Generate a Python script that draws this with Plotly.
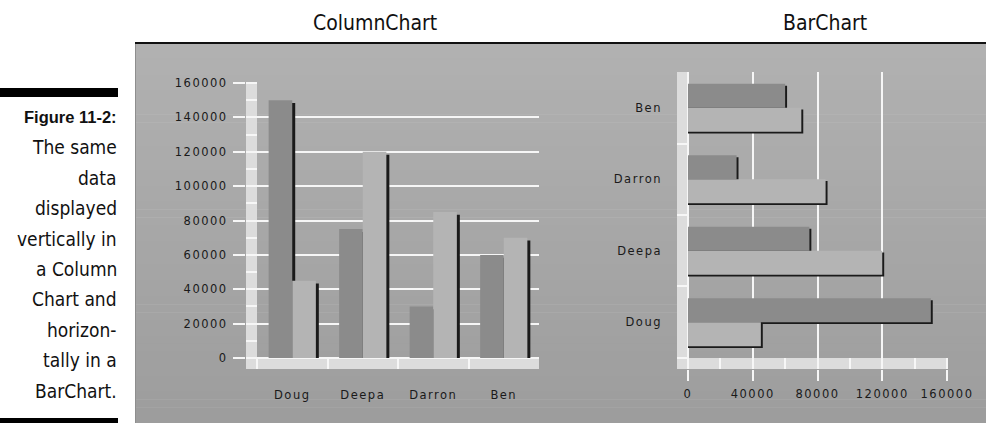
import plotly.graph_objects as go

# ---- data -------------------------------------------------------------
names = ["Doug", "Deepa", "Darron", "Ben"]
series_dark = [150000, 75000, 30000, 60000]
series_light = [45000, 120000, 85000, 70000]
column_ticks = [0, 20000, 40000, 60000, 80000, 100000, 120000, 140000, 160000]
bar_ticks = [0, 40000, 80000, 120000, 160000]
caption_title = "Figure 11-2:"
caption_lines = ["The same", "data", "displayed", "vertically in", "a Column",
                 "Chart and", "horizon-", "tally in a", "BarChart."]

# ---- styling ----------------------------------------------------------
W, H = 986, 423
DARK = "#8b8b8b"
LIGHT = "#b4b4b4"
SHADOW = "#1a1a1a"
WALL = "#dcdcdc"
GRID = "#f6f6f6"
TICK_FONT = dict(family="DejaVu Sans, Verdana, sans-serif", size=11.5, color="#1a1a1a")
COND_FONT = "DejaVu Sans Condensed, Liberation Sans Narrow, Liberation Sans, sans-serif"
BAR_W = 0.335


def px(x):
    return x / W


def py(y):
    return 1 - y / H


fig = go.Figure()

# Column chart: shadow strip drawn behind each bar, slightly offset
fig.add_trace(go.Bar(x=names, y=[v - 1700 for v in series_dark], offset=-BAR_W + 0.042,
                     width=BAR_W, marker=dict(color=SHADOW, line_width=0),
                     xaxis="x", yaxis="y", hoverinfo="skip"))
fig.add_trace(go.Bar(x=names, y=series_dark, offset=-BAR_W, width=BAR_W,
                     marker=dict(color=DARK, line_width=0), xaxis="x", yaxis="y"))
fig.add_trace(go.Bar(x=names, y=[v - 1700 for v in series_light], offset=0.042,
                     width=BAR_W, marker=dict(color=SHADOW, line_width=0),
                     xaxis="x", yaxis="y", hoverinfo="skip"))
fig.add_trace(go.Bar(x=names, y=series_light, offset=0, width=BAR_W,
                     marker=dict(color=LIGHT, line_width=0), xaxis="x", yaxis="y"))

# Bar chart (horizontal): shadow drops down and to the right
fig.add_trace(go.Bar(y=names, x=[v + 1200 for v in series_dark], orientation="h",
                     offset=-0.026, width=BAR_W, marker=dict(color=SHADOW, line_width=0),
                     xaxis="x2", yaxis="y2", hoverinfo="skip"))
fig.add_trace(go.Bar(y=names, x=series_dark, orientation="h", offset=0, width=BAR_W,
                     marker=dict(color=DARK, line_width=0), xaxis="x2", yaxis="y2"))
fig.add_trace(go.Bar(y=names, x=[v + 1200 for v in series_light], orientation="h",
                     offset=-BAR_W - 0.026, width=BAR_W,
                     marker=dict(color=SHADOW, line_width=0),
                     xaxis="x2", yaxis="y2", hoverinfo="skip"))
fig.add_trace(go.Bar(y=names, x=series_light, orientation="h", offset=-BAR_W,
                     width=BAR_W, marker=dict(color=LIGHT, line_width=0),
                     xaxis="x2", yaxis="y2"))

shapes = []

# panel background: vertical gradient built from thin strips
panel_top, panel_bottom, panel_left = 43, H, 135
n_strips = 48
top_rgb, bottom_rgb = 177, 157
for i in range(n_strips):
    y0 = panel_top + (panel_bottom - panel_top) * i / n_strips
    y1 = panel_top + (panel_bottom - panel_top) * (i + 1) / n_strips + 0.6
    g = round(top_rgb + (bottom_rgb - top_rgb) * i / (n_strips - 1))
    shapes.append(dict(type="rect", xref="paper", yref="paper", layer="below",
                       x0=px(panel_left), x1=1, y0=py(min(y1, H)), y1=py(y0),
                       fillcolor=f"rgb({g},{g},{g})", line_width=0))
shapes.append(dict(type="line", xref="paper", yref="paper", layer="below",
                   x0=px(panel_left + 0.5), x1=px(panel_left + 0.5), y0=0, y1=py(panel_top),
                   line=dict(color="#8e8e8e", width=1)))
shapes.append(dict(type="line", xref="paper", yref="paper", layer="above",
                   x0=px(panel_left), x1=1, y0=py(panel_top), y1=py(panel_top),
                   line=dict(color="#111111", width=2)))

# caption rules
shapes.append(dict(type="rect", xref="paper", yref="paper", layer="above",
                   x0=0, x1=px(118), y0=py(97), y1=py(88), fillcolor="#000", line_width=0))
shapes.append(dict(type="rect", xref="paper", yref="paper", layer="above",
                   x0=0, x1=px(118), y0=0, y1=py(418), fillcolor="#000", line_width=0))

# column chart wall and floor
col_lo, col_left = -6400, -0.656
shapes.append(dict(type="rect", xref="x", yref="y", layer="below",
                   x0=col_left, x1=-0.5, y0=col_lo, y1=column_ticks[-1],
                   fillcolor=WALL, line_width=0))
shapes.append(dict(type="rect", xref="x", yref="y", layer="below",
                   x0=col_left, x1=3.5, y0=col_lo, y1=0, fillcolor=WALL, line_width=0))

# bar chart wall and floor
bar_lo, bar_bottom = -6800, -0.654
shapes.append(dict(type="rect", xref="x2", yref="y2", layer="below",
                   x0=bar_lo, x1=0, y0=bar_bottom, y1=3.5, fillcolor=WALL, line_width=0))
shapes.append(dict(type="rect", xref="x2", yref="y2", layer="below",
                   x0=bar_lo, x1=bar_ticks[-1], y0=bar_bottom, y1=-0.5,
                   fillcolor=WALL, line_width=0))

annotations = [dict(text=f"<b>{caption_title}</b>", xref="paper", yref="paper",
                    x=px(119), y=py(117), xanchor="right", yanchor="middle",
                    showarrow=False,
                    font=dict(family="Liberation Sans, Arial, sans-serif", size=16.5,
                              color="#111111"))]
for i, line in enumerate(caption_lines, start=1):
    annotations.append(dict(text=line, xref="paper", yref="paper", x=px(119),
                            y=py(117 + i * 30.4), xanchor="right", yanchor="middle",
                            showarrow=False, align="right",
                            font=dict(family=COND_FONT, size=19, color="#111111")))
for text, cx in (("ColumnChart", 375), ("BarChart", 825)):
    annotations.append(dict(text=text, xref="paper", yref="paper", x=px(cx), y=py(23),
                            xanchor="center", yanchor="middle", showarrow=False,
                            font=dict(family=COND_FONT, size=21, color="#111111")))

fig.update_layout(
    width=W, height=H,
    margin=dict(l=0, r=0, t=0, b=0, pad=0, autoexpand=False),
    paper_bgcolor="white", plot_bgcolor="rgba(0,0,0,0)",
    barmode="overlay", showlegend=False,
    shapes=shapes, annotations=annotations,
    xaxis=dict(domain=[px(246), px(539)], anchor="y", type="category",
               range=[col_left, 3.5], tickson="boundaries", ticks="inside",
               ticklen=11, tickwidth=2, tickcolor=GRID, showgrid=False,
               zeroline=False, showline=False, tickfont=TICK_FONT, automargin=False,
               ticklabelstandoff=17, fixedrange=True),
    yaxis=dict(domain=[py(369), py(83)], anchor="x", range=[col_lo, column_ticks[-1]],
               tickmode="array", tickvals=column_ticks, tickformat="d",
               ticks="outside", ticklen=12,
               tickwidth=2, tickcolor=GRID, showgrid=True, gridcolor=GRID, gridwidth=2,
               zeroline=False, showline=False, tickfont=TICK_FONT, ticklabelstandoff=3,
               automargin=False,
               minor=dict(tickmode="linear", tick0=0, dtick=10000, ticks="inside",
                          ticklen=11, tickwidth=2, tickcolor=GRID, showgrid=False),
               fixedrange=True),
    xaxis2=dict(domain=[px(677), px(947)], anchor="y2", range=[bar_lo, bar_ticks[-1]],
                tickmode="array", tickvals=bar_ticks, tickformat="d",
                ticks="outside", ticklen=11,
                tickwidth=1.5, tickcolor=GRID, showgrid=True, gridcolor=GRID,
                gridwidth=1.5, zeroline=False, showline=False, tickfont=TICK_FONT,
                ticklabelstandoff=3, automargin=False,
                minor=dict(tickmode="linear", tick0=0, dtick=20000, ticks="inside",
                           ticklen=11, tickwidth=1.5, tickcolor=GRID, showgrid=False),
                fixedrange=True),
    yaxis2=dict(domain=[py(369), py(72)], anchor="x2", type="category",
                range=[bar_bottom, 3.5], tickson="boundaries", ticks="inside",
                ticklen=11, tickwidth=2, tickcolor=GRID, showgrid=False,
                zeroline=False, showline=False, tickfont=TICK_FONT, automargin=False,
                ticklabelstandoff=14, fixedrange=True),
)

# page without margins; tick labels get slightly wider letter spacing
page_js = """
document.body.style.margin = '0';
var gd = document.getElementsByClassName('plotly-graph-div')[0];
gd.querySelectorAll('.xtick text, .ytick text, .x2tick text, .y2tick text')
  .forEach(function (t) { t.style.letterSpacing = '1.5px'; });
"""

fig.write_html("out.html", config={"displayModeBar": False, "responsive": False},
               post_script=page_js)
